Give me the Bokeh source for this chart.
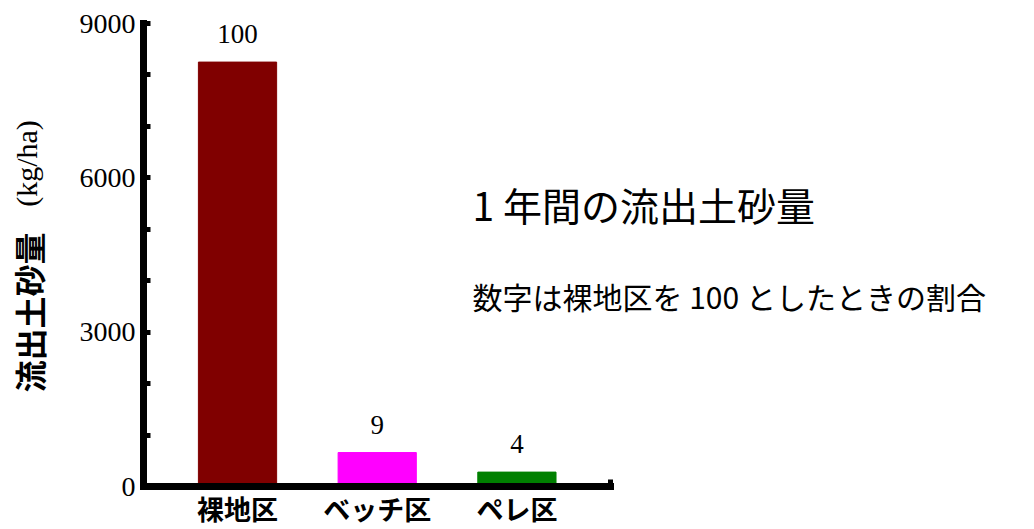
from bokeh.plotting import figure
from bokeh.models import ColumnDataSource, FixedTicker, Range1d, Label, LabelSet
from bokeh.embed import file_html
from bokeh.resources import INLINE
from bokeh.core.properties import value

# ---- data ----
categories = ["裸地区", "ベッチ区", "ペレ区"]
positions = [1, 2, 3]
soil_loss = [8250, 660, 280]          # kg/ha
ratio_labels = ["100", "9", "4"]      # relative to 裸地区 = 100
bar_colors = ["#800000", "#ff00ff", "#008000"]
y_major = [0, 3000, 6000, 9000]
y_minor = [1000, 2000, 4000, 5000, 7000, 8000]
title_text = "1 年間の流出土砂量"
note_text = "数字は裸地区を 100 としたときの割合"
ylabel_main = "流出土砂量"
ylabel_unit = "(kg/ha)"

W, H = 1034, 529
# pixel placement of the axes box
left, right, top, bottom = 143, 610, 23, 486
ax_x0, ax_x1 = 0.327, 3.67
ax_y0, ax_y1 = 0, 9000
ux = (ax_x1 - ax_x0) / (right - left)
uy = (ax_y1 - ax_y0) / (bottom - top)

def dx(px):
    return ax_x0 + (px - left) * ux

def dy(py):
    return ax_y0 + (bottom - py) * uy

p = figure(width=W, height=H, output_backend="svg", toolbar_location=None,
           x_range=Range1d(dx(0), dx(W)), y_range=Range1d(dy(H), dy(0)),
           min_border=0)
p.outline_line_color = None
p.xgrid.grid_line_color = None
p.ygrid.grid_line_color = None
p.background_fill_color = "white"
p.border_fill_color = "white"

src = ColumnDataSource(dict(x=positions, top=soil_loss, lab=ratio_labels, color=bar_colors))
p.vbar(x="x", top="top", bottom=0, width=0.56, fill_color="color", line_color="color", source=src)

p.add_layout(LabelSet(x="x", y="top", text="lab", source=src, y_offset=19,
                      text_align="center", text_baseline="alphabetic",
                      text_font=value("Liberation Serif"), text_font_size="27px",
                      text_color="black"))

# y axis
ya = p.yaxis[0]
ya.fixed_location = ax_x0
ya.bounds = (ax_y0, ax_y1)
ya.ticker = FixedTicker(ticks=y_major, minor_ticks=y_minor)
ya.axis_line_width = 7
ya.axis_line_cap = "square"
ya.major_tick_in = 7
ya.major_tick_out = 0
ya.major_tick_line_width = 5
ya.minor_tick_in = 7
ya.minor_tick_out = 0
ya.minor_tick_line_width = 5
ya.major_label_text_font = "Liberation Serif"
ya.major_label_text_font_size = "28px"
ya.major_label_text_color = "black"
ya.major_label_standoff = 8

# x axis
xa = p.xaxis[0]
xa.fixed_location = ax_y0
xa.bounds = (ax_x0, ax_x1)
xa.ticker = FixedTicker(ticks=positions, minor_ticks=[ax_x1])
xa.major_label_overrides = {pos: c for pos, c in zip(positions, categories)}
xa.axis_line_width = 7
xa.axis_line_cap = "square"
xa.major_tick_line_color = None
xa.major_tick_in = 0
xa.major_tick_out = 0
xa.minor_tick_in = 7
xa.minor_tick_out = 0
xa.minor_tick_line_width = 5
xa.major_label_text_font = "Noto Sans CJK JP"
xa.major_label_text_font_style = "bold"
xa.major_label_text_font_size = "27px"
xa.major_label_text_color = "black"
xa.major_label_standoff = 2

p.add_layout(Label(x=dx(28), y=dy(312), text=ylabel_main, angle=1.5708,
                   text_align="center", text_baseline="middle",
                   text_font="Noto Sans CJK JP", text_font_style="bold",
                   text_font_size="32px", text_color="black"))
p.add_layout(Label(x=dx(26), y=dy(163), text=ylabel_unit, angle=1.5708,
                   text_align="center", text_baseline="middle",
                   text_font="Liberation Serif", text_font_size="30px",
                   text_color="black"))
p.add_layout(Label(x=dx(472), y=dy(203), text=title_text,
                   text_align="left", text_baseline="middle",
                   text_font="Noto Sans CJK JP", text_font_size="39px",
                   text_color="black"))
p.add_layout(Label(x=dx(472), y=dy(295), text=note_text,
                   text_align="left", text_baseline="middle",
                   text_font="Noto Sans CJK JP", text_font_size="30px",
                   text_color="black"))

open("out.html", "w").write(file_html(p, INLINE))
